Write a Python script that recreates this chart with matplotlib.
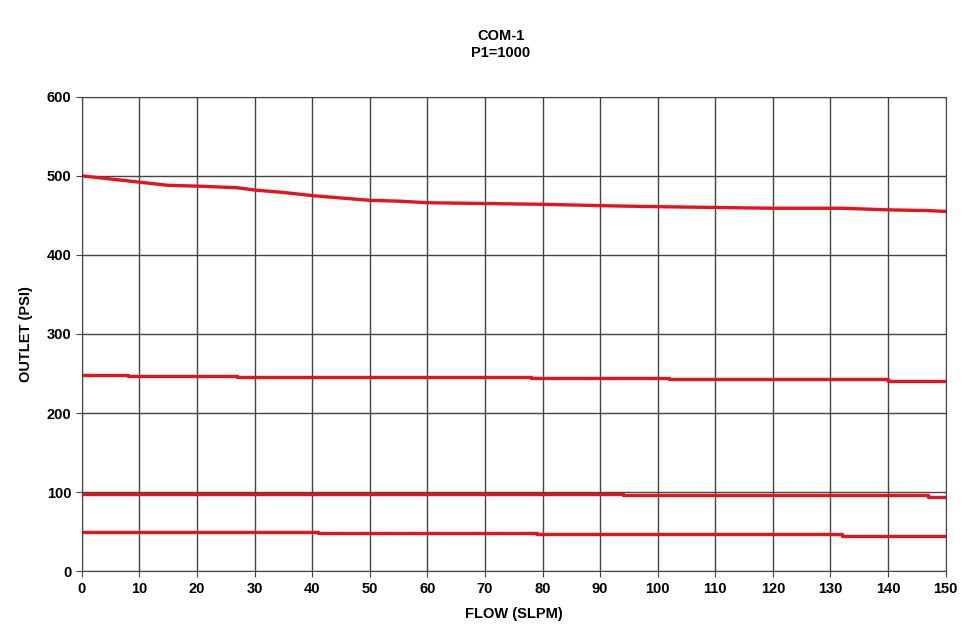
import numpy as np
import matplotlib
matplotlib.use('Agg')
import matplotlib.pyplot as plt

plt.rcParams['font.family'] = ['Liberation Sans', 'DejaVu Sans']

# flow breakpoints (SLPM) and outlet pressure (PSI) for each setting
flow_500 = [0, 5, 10, 15, 20, 27, 30, 35, 40, 45, 50, 55, 60, 70, 80, 92, 100, 110, 120, 132, 140, 147, 150]
psi_500 = [500, 496, 492, 488, 487, 485, 482, 479, 475, 472, 469, 468, 466, 465, 464, 462, 461, 460, 459, 459, 457, 456, 455]

flow_250 = [0, 8, 27, 42, 78, 102, 140, 150]
psi_250 = [248, 247, 246, 245, 244, 243, 241, 241]

flow_100 = [0, 41, 94, 147, 150]
psi_100 = [98, 98, 96, 94, 94]

flow_50 = [0, 41, 79, 132, 150]
psi_50 = [50, 48, 47, 45, 45]

fig = plt.figure(figsize=(9.63, 6.41), dpi=100)
ax = fig.add_axes([0.085, 0.109, 0.897, 0.740])

red = '#e8121a'
ax.plot(flow_500, psi_500, color=red, lw=2.4)
for fx, py in [(flow_250, psi_250), (flow_100, psi_100), (flow_50, psi_50)]:
    ax.plot(fx, py, color=red, lw=2.4, drawstyle='steps-post')

ax.set_xlim(0, 150)
ax.set_ylim(0, 600)
ax.set_xticks(np.arange(0, 151, 10))
ax.set_yticks(np.arange(0, 601, 100))
ax.grid(True, color='#444444', lw=1.0)
ax.set_axisbelow(True)
for s in ax.spines.values():
    s.set_color('#444444')
ax.tick_params(labelsize=10.5, length=4, color='#444444')
for lab in ax.get_xticklabels() + ax.get_yticklabels():
    lab.set_fontweight('bold')

ax.set_xlabel('FLOW (SLPM)', fontsize=10.5, fontweight='bold', labelpad=8)
ax.set_ylabel('OUTLET (PSI)', fontsize=10.5, fontweight='bold', labelpad=10)
fig.text(0.52, 0.955, 'COM-1\nP1=1000', ha='center', va='top', fontsize=10.5,
         fontweight='bold', linespacing=1.3)

plt.savefig('out.png', dpi=100)
